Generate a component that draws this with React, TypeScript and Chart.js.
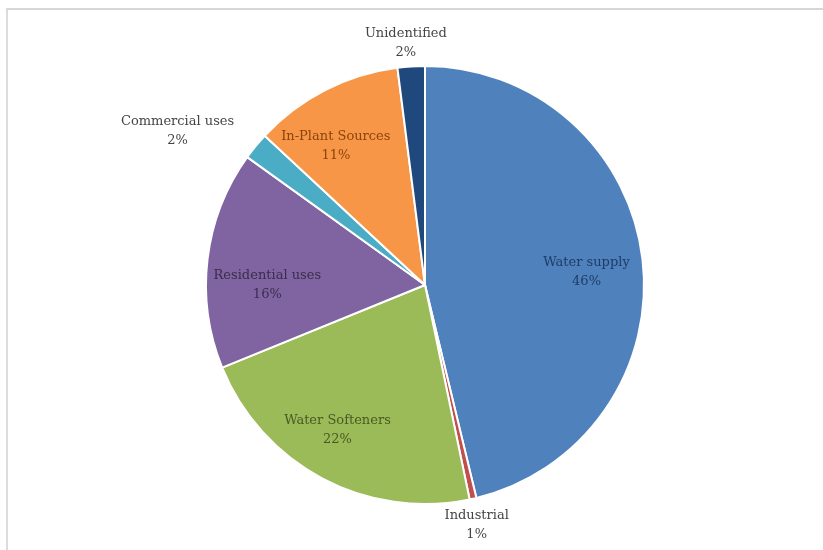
import React, { useEffect, useRef } from "react";
import { Chart, registerables } from "chart.js";

Chart.register(...registerables);

const categories = [
  "Water supply",
  "Industrial",
  "Water Softeners",
  "Residential uses",
  "Commercial uses",
  "In-Plant Sources",
  "Unidentified",
];
const shares = [46, 0.5, 22, 16, 2, 11, 2];
const sliceColors = ["#4F81BD", "#C0504D", "#9BBB59", "#8064A2", "#4BACC6", "#F79646", "#1F497D"];
const labelColors = ["#1f3c66", "#444444", "#475a22", "#3a2c4c", "#444444", "#8a440c", "#444444"];
// label placement: radial factor and angular shift (degrees)
const labelRadius = [0.74, 1.12, 0.775, 0.72, 1.33, 0.755, 1.11];
const labelShift = [2.2, 0.5, 3.0, -6.8, -7.5, -5.5, -0.9];

const labelPlugin = {
  id: "sliceLabels",
  afterDatasetsDraw(chart: any) {
    const ctx = chart.ctx;
    const meta = chart.getDatasetMeta(0);
    const data = chart.data.datasets[0].data as number[];
    const total = data.reduce((a, b) => a + b, 0);
    ctx.save();
    ctx.font = "13px 'DejaVu Serif'";
    ctx.textAlign = "center";
    ctx.textBaseline = "middle";
    meta.data.forEach((arc: any, i: number) => {
      const mid = (arc.startAngle + arc.endAngle) / 2 + (labelShift[i] * Math.PI) / 180;
      const r = arc.outerRadius * labelRadius[i];
      const x = arc.x + Math.cos(mid) * r;
      const y = arc.y + Math.sin(mid) * r;
      const pct = Math.round((data[i] / total) * 100) + "%";
      ctx.fillStyle = labelColors[i];
      ctx.fillText(chart.data.labels[i], x, y - 9.5);
      ctx.fillText(pct, x, y + 9.5);
    });
    ctx.restore();
  },
};

export default function App() {
  const ref = useRef<HTMLCanvasElement | null>(null);
  useEffect(() => {
    if (!ref.current) return;
    const chart = new Chart(ref.current, {
      type: "pie",
      data: {
        labels: categories,
        datasets: [
          {
            data: shares,
            backgroundColor: sliceColors,
            borderColor: "#ffffff",
            borderWidth: 2,
          },
        ],
      },
      options: {
        responsive: false,
        animation: false,
        layout: { padding: { left: 205, right: 178, top: 64, bottom: 44 } },
        plugins: {
          legend: { display: false },
          tooltip: { enabled: false },
          title: { display: false },
        },
      },
      plugins: [labelPlugin],
    });
    return () => chart.destroy();
  }, []);
  return (
    <div style={{ position: "fixed", left: 0, top: 0, width: 823, height: 550, background: "#fff" }}>
      <div
        style={{
          position: "absolute",
          left: 6,
          top: 8,
          right: 0,
          bottom: 0,
          borderTop: "2px solid #d6d6d6",
          borderLeft: "2px solid #dcdcdc",
        }}
      />
      <canvas ref={ref} width={823} height={550} style={{ position: "absolute", left: 0, top: 0 }} />
    </div>
  );
}
